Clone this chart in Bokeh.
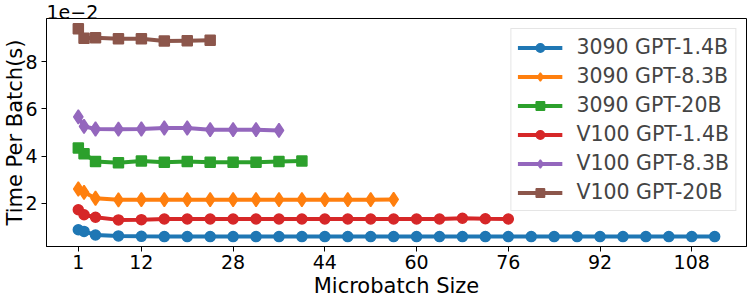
from bokeh.plotting import figure
from bokeh.models import Range1d, FixedTicker, Legend, LegendItem
from bokeh.embed import file_html
from bokeh.resources import INLINE

# Microbatch sizes
x_all = [1, 2, 4] + list(range(8, 113, 4))

# Time per batch, in units of 1e-2 s
gpt14_3090 = [0.87, 0.80, 0.65, 0.61, 0.59, 0.58, 0.58, 0.58, 0.58, 0.58,
              0.58, 0.58, 0.58, 0.58, 0.58, 0.58, 0.58, 0.58, 0.58, 0.58,
              0.58, 0.58, 0.58, 0.58, 0.58, 0.58, 0.58, 0.58, 0.58, 0.58]
gpt83_3090 = [2.60, 2.46, 2.21, 2.14, 2.15, 2.15, 2.15, 2.15, 2.15, 2.15,
              2.15, 2.15, 2.15, 2.15, 2.15, 2.16]
gpt20_3090 = [4.34, 4.10, 3.77, 3.72, 3.79, 3.74, 3.77, 3.74, 3.74, 3.74,
              3.77, 3.79]
gpt14_v100 = [1.72, 1.51, 1.40, 1.29, 1.30, 1.33, 1.33, 1.33, 1.33, 1.33,
              1.33, 1.33, 1.33, 1.33, 1.33, 1.33, 1.33, 1.33, 1.36, 1.34,
              1.33]
gpt83_v100 = [5.66, 5.26, 5.15, 5.14, 5.15, 5.19, 5.19, 5.12, 5.12, 5.12,
              5.09]
gpt20_v100 = [9.40, 9.00, 9.02, 8.98, 8.98, 8.88, 8.90, 8.92]

labels = ["3090 GPT-1.4B", "3090 GPT-8.3B", "3090 GPT-20B",
          "V100 GPT-1.4B", "V100 GPT-8.3B", "V100 GPT-20B"]
series = [gpt14_3090, gpt83_3090, gpt20_3090, gpt14_v100, gpt83_v100, gpt20_v100]
colors = ["#1f77b4", "#ff7f0e", "#2ca02c", "#d62728", "#9467bd", "#8c564b"]
markers = ["circle", "diamond", "square", "circle", "diamond", "square"]
msizes = [10, 14, 10, 10, 14, 10]
x_ticks = [1, 12, 28, 44, 60, 76, 92, 108]
y_ticks = [2, 4, 6, 8]
X0, X1 = -4.55, 117.55
Y0, Y1 = 0.16, 9.84

FONT = "DejaVu Sans"

p = figure(width=747, height=300, output_backend="svg", toolbar_location=None,
           x_range=Range1d(X0, X1), y_range=Range1d(Y0, Y1),
           min_border_left=40, min_border_right=1, min_border_top=18,
           min_border_bottom=50)
p.title.text = "1e\u22122"
p.title.text_font = FONT
p.title.text_font_size = "19px"
p.title.text_font_style = "normal"
p.title.text_color = "black"
p.title.align = "left"
p.title.standoff = 0
p.title.offset = 0
p.background_fill_color = "white"
p.border_fill_color = "white"
p.outline_line_color = "black"
p.outline_line_alpha = 1.0
p.outline_line_width = 1
p.grid.visible = False

items = []
for ys, lab, col, mk, ms in zip(series, labels, colors, markers, msizes):
    xs = x_all[:len(ys)]
    r1 = p.line(xs, ys, line_color=col, line_width=4)
    r2 = p.scatter(xs, ys, marker=mk, size=ms,
                   fill_color=col, line_color=col, line_width=1.5)
    items.append(LegendItem(label=lab, renderers=[r1, r2]))

for ax in (p.xaxis[0], p.yaxis[0]):
    ax.axis_line_color = "black"
    ax.major_tick_line_color = "black"
    ax.major_tick_out = 5
    ax.major_tick_in = 0
    ax.minor_tick_line_color = None
    ax.major_label_text_font = FONT
    ax.major_label_text_font_size = "19px"
    ax.major_label_text_color = "black"
    ax.axis_label_text_font = FONT
    ax.axis_label_text_font_size = "21px"
    ax.axis_label_text_font_style = "normal"
    ax.axis_label_text_color = "black"

p.xaxis.major_label_standoff = 3
p.xaxis.axis_label_standoff = 2
p.yaxis.major_label_standoff = 4
p.yaxis.axis_label_standoff = -5

p.xaxis.ticker = FixedTicker(ticks=x_ticks)
p.yaxis.ticker = FixedTicker(ticks=y_ticks)
p.xaxis.axis_label = "Microbatch Size"
p.yaxis.axis_label = "Time Per Batch(s)"

legend = Legend(items=items, location="top_right",
                label_text_font=FONT, label_text_font_size="20.5px",
                glyph_width=45, glyph_height=21, label_height=21,
                label_standoff=14, spacing=5, padding=6, margin=10,
                border_line_color="#cccccc", border_line_width=1,
                background_fill_alpha=0.8)
p.add_layout(legend)

open("out.html", "w").write(file_html(p, INLINE))
